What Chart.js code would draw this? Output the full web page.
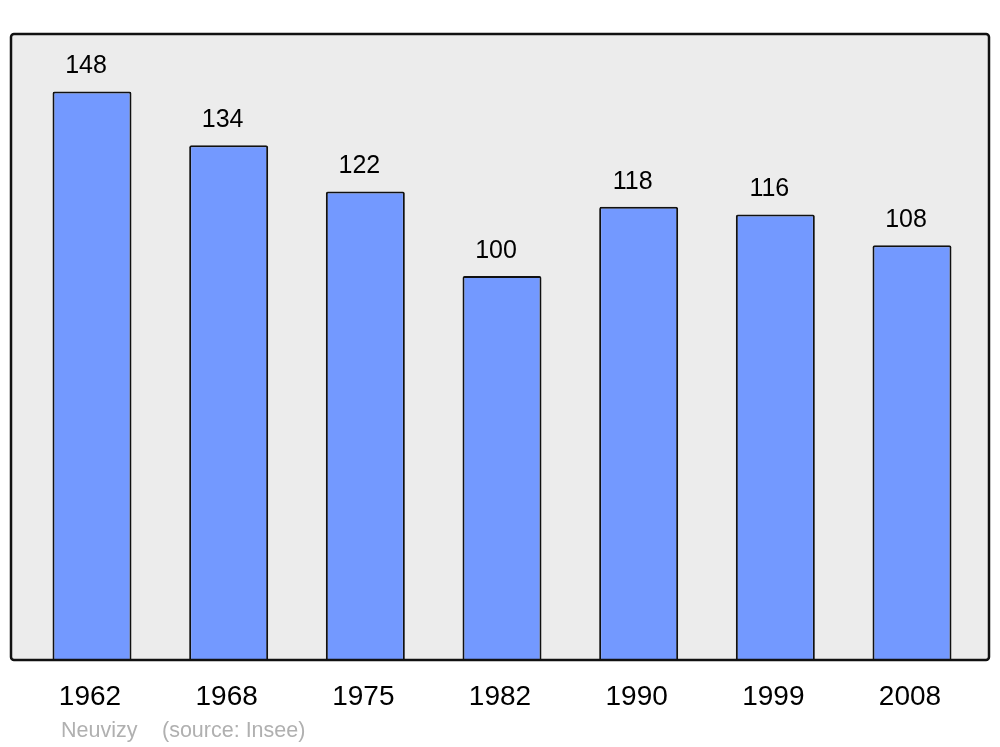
<!DOCTYPE html>
<html>
<head>
<meta charset="utf-8">
<script src="https://cdn.jsdelivr.net/npm/chart.js@4/dist/chart.umd.min.js"></script>
<style>
html,body{margin:0;padding:0;background:#fff;}
#wrap{width:1000px;height:747px;position:relative;}
</style>
</head>
<body>
<div id="wrap"><canvas id="c" width="1000" height="747"></canvas></div>
<script>
const years = ["1962","1968","1975","1982","1990","1999","2008"];
const population = [148,134,122,100,118,116,108];
const placeName = "Neuvizy";
const sourceText = "(source: Insee)";

const FONT = "'Liberation Sans', Arial, sans-serif";

const boxPlugin = {
  id: 'box',
  beforeDraw(chart){
    const {ctx, chartArea:a} = chart;
    const x0 = a.left - 12.67, x1 = a.right + 8.67, y0 = a.top, y1 = a.bottom;
    ctx.save();
    ctx.beginPath();
    ctx.roundRect(x0, y0, x1 - x0, y1 - y0, 3);
    ctx.fillStyle = '#ececec';
    ctx.fill();
    ctx.restore();
  },
  afterDatasetsDraw(chart){
    const {ctx, chartArea:a} = chart;
    const x0 = a.left - 12.67, x1 = a.right + 8.67, y0 = a.top, y1 = a.bottom;
    ctx.save();
    ctx.beginPath();
    ctx.roundRect(x0, y0, x1 - x0, y1 - y0, 3);
    ctx.lineWidth = 2.5;
    ctx.strokeStyle = '#111';
    ctx.stroke();
    // value labels
    const meta = chart.getDatasetMeta(0);
    ctx.fillStyle = '#000';
    ctx.font = '25px ' + FONT;
    ctx.textAlign = 'center';
    ctx.textBaseline = 'middle';
    meta.data.forEach((bar, i) => {
      ctx.fillText(String(population[i]), bar.x - 6, bar.y - 25);
    });
    // footer
    ctx.fillStyle = '#b0b0b0';
    ctx.font = '21.5px ' + FONT;
    ctx.textAlign = 'left';
    ctx.fillText(placeName, 61, 731);
    ctx.fillText(sourceText, 162, 731);
    ctx.restore();
  }
};

new Chart(document.getElementById('c'), {
  type: 'bar',
  data: {
    labels: years,
    datasets: [{
      data: population,
      backgroundColor: '#7399ff',
      borderColor: '#111',
      borderWidth: 2,
      borderRadius: 2,
      borderSkipped: 'bottom',
      barPercentage: 0.578,
      categoryPercentage: 1
    }]
  },
  options: {
    responsive: false,
    animation: false,
    devicePixelRatio: 1,
    layout: { padding: { top: 34, left: 23.67, right: 19.67, bottom: 0 } },
    plugins: { legend: { display: false }, tooltip: { enabled: false }, title: { display: false } },
    scales: {
      y: { display: false, min: 0, max: 163 },
      x: {
        grid: { display: false, drawTicks: false },
        border: { display: false },
        ticks: { color: '#000', font: { family: FONT, size: 28 }, padding: 20, labelOffset: -2, maxRotation: 0 },
        afterFit(s){ s.height = 87; }
      }
    }
  },
  plugins: [boxPlugin]
});
</script>
</body>
</html>
